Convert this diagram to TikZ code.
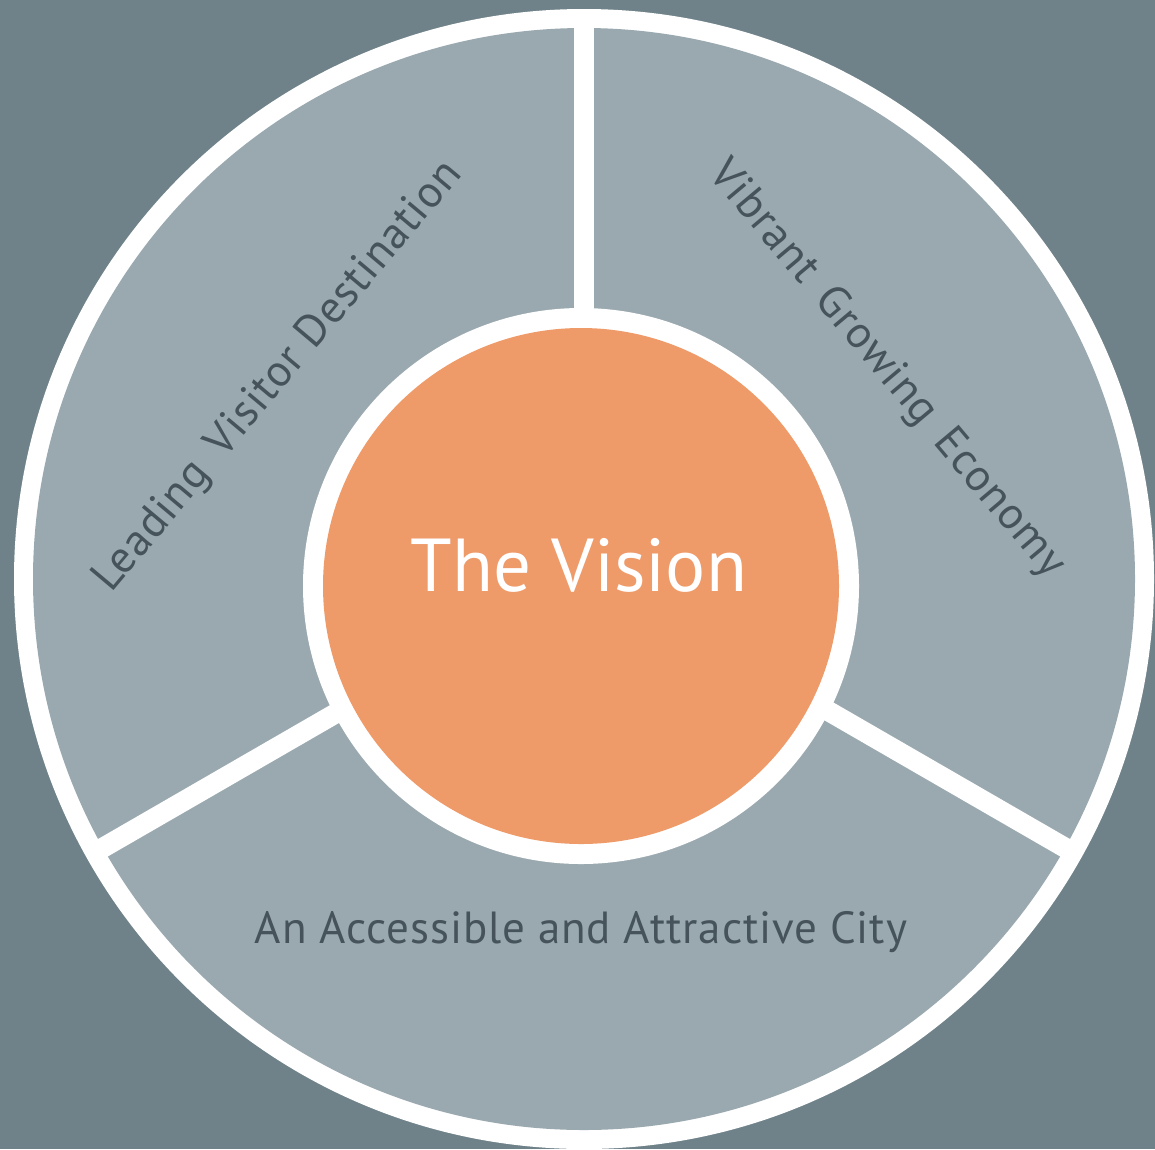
\documentclass[tikz,border=0pt]{standalone}
\usepackage{fontspec}
\setmainfont{PT Sans}
\definecolor{bgslate}{HTML}{6F8289}
\definecolor{bandgrey}{HTML}{9AA9B0}
\definecolor{coreorange}{HTML}{EF9A69}
\definecolor{labeltxt}{HTML}{46535B}
\begin{document}
\begin{tikzpicture}[x=1pt,y=-1pt,
  disc/.style={circle, inner sep=0pt, outer sep=0pt, draw=none},
  divider/.style={draw=white, line width=20pt},
  pillar/.style={text=labeltxt, font=\fontsize{45}{50}\selectfont\addfontfeature{LetterSpace=2}, inner sep=0pt}]
\fill[bgslate] (0,0) rectangle (1155,1149);
\useasboundingbox (0,0) rectangle (1155,1149);
\node[disc, fill=white, minimum size=1140pt] (outer) at (584,579) {};
\node[disc, fill=bandgrey, minimum size=1102pt] (band) at (584,579) {};
\coordinate (hub) at (584,570);
\coordinate (eTop) at (584,0);
\coordinate (eLeft) at (99,850);
\coordinate (eRight) at (1069,850);
\begin{scope}
\clip (584,579) circle[radius=553pt];
\draw[divider] (hub) -- (eTop);
\draw[divider] (hub) -- (eLeft);
\draw[divider] (hub) -- (eRight);
\end{scope}
\node[disc, fill=white, minimum size=556pt] (halo) at (581,586) {};
\node[disc, fill=coreorange, minimum size=516pt] (core) at (581,586) {};
\node[anchor=base, text=white, font=\fontsize{75}{86}\selectfont, inner sep=0pt] (vision) at (579,591) {The Vision};
\node[pillar, anchor=base, rotate=50] (leading) at (287,384) {Leading\hspace{0.15em} Visitor Destination};
\node[pillar, anchor=base, rotate=-50] (vibrant) at (878,377) {Vibrant\hspace{0.15em} Growing\hspace{0.15em} Economy};
\node[pillar, anchor=base] (access) at (581,943) {An Accessible and Attractive City};
\end{tikzpicture}
\end{document}
